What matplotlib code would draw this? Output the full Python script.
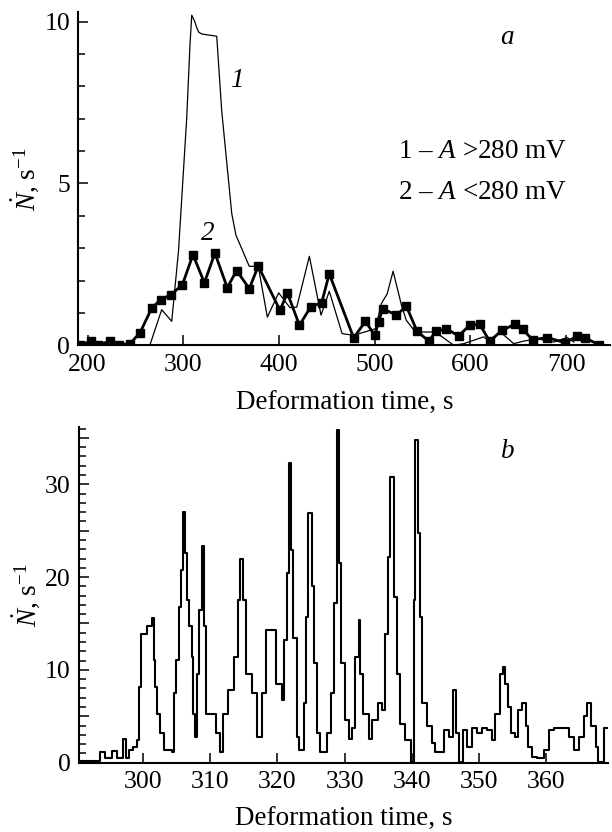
import numpy as np
import matplotlib
matplotlib.use("Agg")
from matplotlib import pyplot as plt
from matplotlib.ticker import MultipleLocator, FuncFormatter

plt.rcParams['font.family'] = ['Liberation Serif', 'DejaVu Serif']
plt.rcParams['mathtext.fontset'] = 'custom'
plt.rcParams['mathtext.rm'] = 'Liberation Serif'
plt.rcParams['mathtext.it'] = 'Liberation Serif:italic'
plt.rcParams['font.size'] = 19.5

#%% Data, panel a

# curve 1 : A > 280 mV (thin line)
t1 = [265, 277.4, 287.9, 295, 303.6, 307, 308.8, 312, 314, 316,
      319.2, 334.9, 340.1, 350.6, 355, 361, 368.9, 378.3, 387.8, 399.6,
      411.5, 418.5, 431.7, 443.9, 452.5, 465.9, 478, 500.7, 507, 513,
      519.2, 528, 533, 542.5, 563.4, 582.5, 593, 613.8, 621, 631.3,
      645.2, 655.7, 669.6, 687, 701, 708]
n1 = [0, 1.1, 0.74, 2.93, 7.05, 9.31, 10.2, 10.0, 9.82, 9.68,
      9.62, 9.55, 7.25, 4.07, 3.4, 2.99, 2.44, 2.44, 0.87, 1.62,
      1.16, 1.18, 2.75, 0.93, 1.67, 0.36, 0.31, 0.51, 1.29, 1.59,
      2.29, 1.23, 0.77, 0.41, 0.41, 0.0, 0.05, 0.26, 0.1, 0.41,
      0.05, 0.13, 0.2, 0.1, 0.24, 0.1]

# curve 2 : A < 280 mV (squares)
t2 = [192, 203.6, 211, 223.4, 232.8, 244.3, 254.8, 267, 276.4, 286.8,
      299, 310.1, 322, 333, 345.9, 355.7, 368.9, 378.3, 401, 408.7,
      421.3, 433, 444.6, 452.5, 478, 490.3, 500, 504, 508.4, 522.7,
      533, 544.3, 556.4, 564, 574.8, 587.7, 599.2, 609.6, 620, 633,
      646.3, 654.6, 665, 680, 699, 711.3, 719.3, 733.9]
n2 = [0.02, 0.12, 0.02, 0.12, 0.02, 0.05, 0.39, 1.15, 1.41, 1.56,
      1.87, 2.80, 1.93, 2.85, 1.78, 2.31, 1.75, 2.45, 1.08, 1.62,
      0.62, 1.18, 1.32, 2.21, 0.23, 0.74, 0.31, 0.72, 1.13, 0.93,
      1.21, 0.43, 0.13, 0.43, 0.51, 0.29, 0.62, 0.65, 0.13, 0.46,
      0.65, 0.49, 0.17, 0.24, 0.08, 0.28, 0.24, 0.02]

#%% Data, panel b

tb = [290.5, 293.2, 293.7, 294.4, 295.4, 296.1, 297, 297.5, 297.9, 298.6,
      299.2, 299.5, 299.7, 300.6, 301.3, 301.6, 301.8, 302.1, 302.6, 303.1,
      304.3, 304.6, 305, 305.3, 305.6, 306, 306.2, 306.5, 306.9, 307.3,
      307.5, 307.8, 308, 308.4, 308.8, 309.1, 309.4, 310.5, 310.9, 311.4,
      311.9, 312.7, 313.5, 314.1, 314.4, 314.9, 315.4, 316.2, 317, 317.7,
      318.3, 319.4, 319.8, 320.7, 321, 321.5, 321.7, 322, 322.3, 322.9,
      323.2, 323.9, 324.3, 324.6, 325.1, 325.5, 325.9, 326.4, 327.4, 327.9,
      328.4, 328.8, 329.1, 329.5, 330.1, 330.6, 331.1, 331.6, 332.1, 332.3,
      332.8, 333.6, 334.1, 334.9, 335.5, 336, 336.4, 336.7, 337, 337.3,
      337.8, 338.3, 339, 339.8, 340, 340.3, 340.5, 340.9, 341.2, 341.5,
      342.3, 343, 343.5, 344.5, 344.7, 345.5, 346.1, 346.5, 347, 347.3,
      347.6, 348.2, 348.9, 349.7, 350.4, 351.2, 351.9, 352.4, 353.1, 353.6,
      353.9, 354.3, 354.7, 355.3, 355.8, 356.4, 356.9, 357.3, 357.9, 358.6,
      359.6, 360.4, 361.1, 362.9, 363.4, 364.1, 364.9, 365.6, 366.1, 366.6,
      367.3, 367.7, 368.1, 368.6, 369.1]
nb = [0.2, 0.2, 1.2, 0.5, 1.3, 0.5, 2.5, 0.5, 1.4, 1.7,
      2.4, 8.2, 13.9, 14.7, 15.6, 11.1, 8.2, 5.3, 3.2, 1.4,
      1.2, 7.5, 11.1, 16.8, 20.8, 27, 22.6, 17.5, 14.7, 11.4,
      5.3, 2.8, 9.6, 16.5, 23.3, 14.7, 5.3, 5.3, 3.2, 1.2,
      5.3, 7.8, 11.4, 17.5, 22, 17.5, 9.6, 7.5, 2.8, 7.5,
      14.3, 14.3, 8.5, 6.8, 13.2, 20.4, 32.3, 22.9, 13.4, 2.8,
      1.4, 6.4, 15.7, 26.9, 19, 10.7, 3.2, 1.2, 3.2, 7.5,
      17.2, 35.8, 21.5, 10.7, 4.6, 2.6, 3.7, 11.4, 15.4, 9.6,
      5.3, 2.6, 4.6, 6.4, 5.7, 13.9, 22.2, 30.8, 30.8, 17.9,
      9.6, 4.2, 2.4, 0.1, 0.1, 17.5, 34.8, 24.7, 15.7, 6.4,
      3.9, 2.1, 1.2, 1.2, 3.5, 2.8, 7.8, 3.2, 0.1, 0.1,
      3.5, 1.7, 3.7, 3.2, 3.7, 3.5, 2.4, 5.3, 9.6, 10.3,
      8.5, 6, 3.2, 2.8, 5.7, 6.4, 3.9, 1.7, 0.6, 0.5,
      1.4, 3.5, 3.7, 3.7, 2.8, 1.4, 2.8, 5, 6.4, 3.9,
      1.7, 0.1, 0.1, 3.7, 3.7]

ylab = r'$\dot{N}$, s$^{-1}$'
xlab = 'Deformation time, s'

#%% Figure

fig = plt.figure(figsize=(6.12, 8.32), dpi=100)
ax1 = fig.add_axes([0.128, 0.585, 0.869, 0.4006])
ax2 = fig.add_axes([0.129, 0.0833, 0.865, 0.4038])


def style(ax):
    for s in ['top', 'right']:
        ax.spines[s].set_visible(False)
    for s in ['left', 'bottom']:
        ax.spines[s].set_linewidth(1.5)
    ax.tick_params(which='both', direction='in', width=1.1, labelsize=18.5)
    ax.tick_params(which='major', length=7.5, pad=6)
    ax.tick_params(which='minor', length=5)


# panel a
ax1.plot(t1, n1, color='black', lw=0.9)
ax1.plot(t2, n2, color='black', lw=2.0, marker='s', ms=5.5)
ax1.set_xlim(190.3, 746)
ax1.set_ylim(0, 10.3)
ax1.xaxis.set_major_locator(MultipleLocator(100))
ax1.yaxis.set_major_locator(MultipleLocator(5))
ax1.yaxis.set_minor_locator(MultipleLocator(1))
style(ax1)
ax1.set_xlabel(xlab, labelpad=11)
ax1.set_ylabel(ylab, labelpad=2)
ax1.text(355.8, 8.18, '1', style='italic', ha='center', va='center')
ax1.text(325.8, 3.46, '2', style='italic', ha='center', va='center')
ax1.text(638, 9.5, 'a', style='italic', ha='center', va='center')
ax1.text(524, 6.0, r'$\mathit{1}$ – $\mathit{A}$ >280 mV', ha='left', va='center')
ax1.text(524, 4.72, r'$\mathit{2}$ – $\mathit{A}$ <280 mV', ha='left', va='center')

# panel b
ax2.plot(tb, nb, color='black', lw=1.5, drawstyle='steps-post')
ax2.set_xlim(290.5, 369.2)
ax2.set_ylim(0, 36.2)
ax2.xaxis.set_major_locator(MultipleLocator(10))
ax2.yaxis.set_major_locator(MultipleLocator(5))
ax2.yaxis.set_minor_locator(MultipleLocator(1))
ax2.yaxis.set_major_formatter(FuncFormatter(lambda v, p: '%d' % v if v % 10 == 0 else ''))
style(ax2)
ax2.set_xlabel(xlab, labelpad=10)
ax2.set_ylabel(ylab, labelpad=2)
ax2.text(354.2, 33.5, 'b', style='italic', ha='center', va='center')

plt.savefig('out.png', dpi=100)
